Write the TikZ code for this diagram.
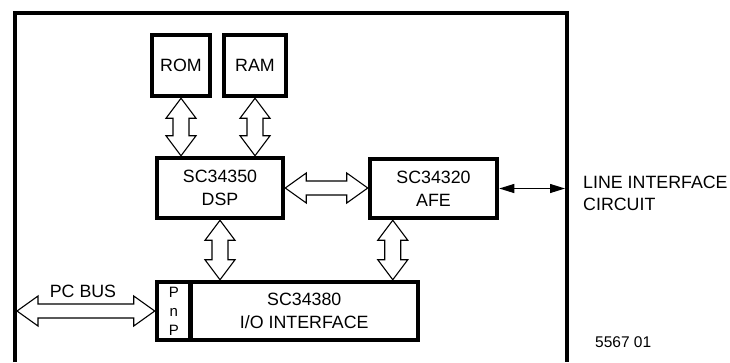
\documentclass[tikz,border=0pt]{standalone}
\usepackage{fontspec}
\setmainfont{Liberation Sans}
\usetikzlibrary{calc,arrows.meta}
\tikzset{
  blk/.style={draw, line width=4.5pt, inner sep=0pt, align=center,
    font=\fontsize{17.8}{23}\selectfont},
  frameline/.style={line width=4pt},
  busline/.style={draw, line width=1.1pt, fill=white, line join=miter},
  sigline/.style={line width=1.1pt, {Triangle[length=15pt,width=9pt]}-{Triangle[length=15pt,width=9pt]}},
  lbl/.style={inner sep=0pt, align=left, font=\fontsize{17.8}{22}\selectfont}
}
% vertical hollow bus arrow: #1 top point, #2 bottom point
\newcommand\vbusarrow[2]{%
  \path[busline] let \p1=(#1), \p2=(#2) in
    (\x1,\y1) -- (\x1+15pt,\y1-20pt) -- (\x1+8pt,\y1-20pt) -- (\x1+8pt,\y2+20pt)
    -- (\x1+15pt,\y2+20pt) -- (\x1,\y2) -- (\x1-15pt,\y2+20pt) -- (\x1-8pt,\y2+20pt)
    -- (\x1-8pt,\y1-20pt) -- (\x1-15pt,\y1-20pt) -- cycle;}
% horizontal hollow bus arrow: #1 left point, #2 right point
\newcommand\hbusarrow[2]{%
  \path[busline] let \p1=(#1), \p2=(#2) in
    (\x1,\y1) -- (\x1+21pt,\y1+15pt) -- (\x1+21pt,\y1+7pt) -- (\x2-21pt,\y1+7pt)
    -- (\x2-21pt,\y1+15pt) -- (\x2,\y1) -- (\x2-21pt,\y1-15pt) -- (\x2-21pt,\y1-7pt)
    -- (\x1+21pt,\y1-7pt) -- (\x1+21pt,\y1-15pt) -- cycle;}
\begin{document}
\begin{tikzpicture}[x=1pt,y=-1pt]
\useasboundingbox (0,0) rectangle (730,362);
% outer frame (open at the bottom)
\draw[frameline] (15,362) -- (15,13) -- (567,13) -- (567,362);
\coordinate (frameL) at (17,0);
\coordinate (frameR) at (565,0);
% blocks
\node[blk, minimum width=58pt, minimum height=61pt] (rom) at (181,65.5) {ROM};
\node[blk, minimum width=62pt, minimum height=61pt] (ram) at (255,65.5) {RAM};
\node[blk, minimum width=126pt, minimum height=60pt] (dsp) at (220,188) {SC34350\\DSP};
\node[blk, minimum width=127pt, minimum height=59pt] (afe) at (433.5,188.5) {SC34320\\AFE};
\node[blk, minimum width=33.5pt, minimum height=58pt, font=\fontsize{15}{19}\selectfont] (pnp) at (173.75,311) {P\\n\\P};
\node[blk, minimum width=227.5pt, minimum height=58pt] (io) at (304.25,311) {SC34380\\I/O INTERFACE};
% bus arrows
\vbusarrow{rom.south}{rom.south |- dsp.north}
\vbusarrow{ram.south}{ram.south |- dsp.north}
\vbusarrow{dsp.south}{dsp.south |- io.north}
\coordinate (afebus) at ($(afe.south west)+(25,0)$);
\vbusarrow{afebus}{afebus |- io.north}
\hbusarrow{dsp.east}{dsp.east -| afe.west}
\hbusarrow{frameL |- pnp.west}{pnp.west}
% line interface signal
\draw[sigline] (afe.east) -- (afe.east -| frameR);
% labels
\node[lbl, anchor=south] (pcbus) at (83,298) {PC BUS};
\node[lbl, anchor=north west] (lic) at (583,176) {LINE INTERFACE\\CIRCUIT};
\node[lbl, anchor=south west, font=\fontsize{15.5}{17}\selectfont] (fig) at (595,347.5) {5567 01};
\end{tikzpicture}
\end{document}
